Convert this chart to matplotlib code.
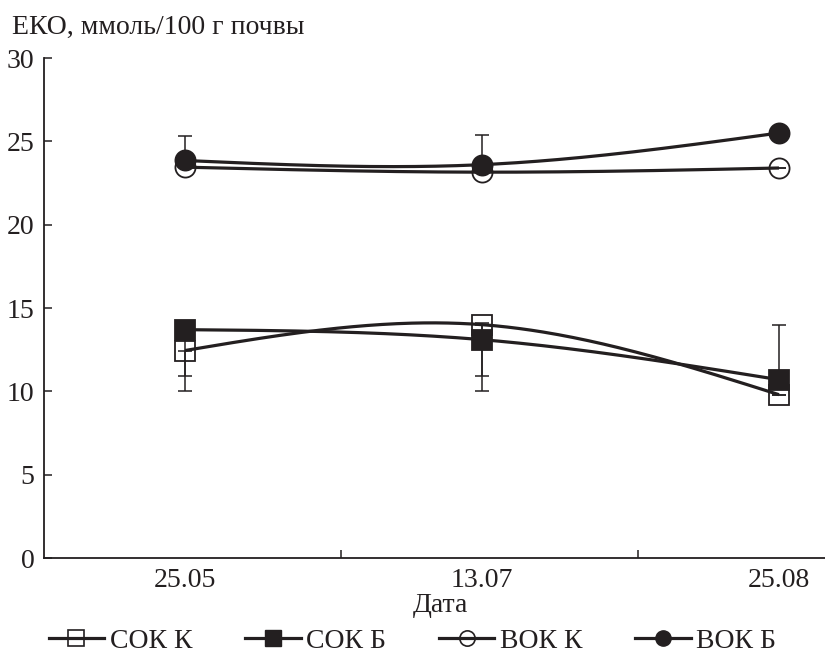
import numpy as np
import matplotlib
matplotlib.use("Agg")
import matplotlib.pyplot as plt
from matplotlib.lines import Line2D

dates = ["25.05", "13.07", "25.08"]
sok_k = [12.45, 14.0, 9.8]
sok_b = [13.7, 13.1, 10.7]
vok_k = [23.45, 23.15, 23.4]
vok_b = [23.85, 23.6, 25.5]

# one-sided error bars (lower, upper)
sok_k_err = ([2.45, 4.0, 0.0], [0.0, 0.0, 0.0])
sok_b_err = ([2.8, 2.2, 0.0], [0.0, 1.0, 3.3])
vok_k_err = ([0.0, 0.0, 0.0], [0.0, 0.0, 0.0])
vok_b_err = ([0.0, 0.0, 0.0], [1.45, 1.75, 0.0])

xpos = np.array([0.475, 1.475, 2.475])
INK = "#231f20"
FONT = "Liberation Serif"
plt.rcParams["font.family"] = [FONT, "DejaVu Serif"]
FS = 20


def natural_spline(x, y, n=200):
    x = np.asarray(x, float); y = np.asarray(y, float)
    k = len(x)
    h = np.diff(x)
    A = np.zeros((k, k)); r = np.zeros(k)
    A[0, 0] = 1; A[-1, -1] = 1
    for i in range(1, k - 1):
        A[i, i - 1] = h[i - 1]; A[i, i] = 2 * (h[i - 1] + h[i]); A[i, i + 1] = h[i]
        r[i] = 6 * ((y[i + 1] - y[i]) / h[i] - (y[i] - y[i - 1]) / h[i - 1])
    M = np.linalg.solve(A, r)
    xs = np.linspace(x[0], x[-1], n)
    ys = np.empty_like(xs)
    for j, t in enumerate(xs):
        i = min(np.searchsorted(x, t, side="right") - 1, k - 2)
        hi = h[i]; a = x[i + 1] - t; b = t - x[i]
        ys[j] = (M[i] * a**3 + M[i + 1] * b**3) / (6 * hi) + (y[i] / hi - M[i] * hi / 6) * a + (y[i + 1] / hi - M[i + 1] * hi / 6) * b
    return xs, ys


fig = plt.figure(figsize=(8.25, 6.63), dpi=100)
ax = fig.add_axes([44 / 825, 105 / 663, 1 - 44 / 825, 500 / 663])

ms = 14.5
lw = 2.3
series = [
    (sok_k, sok_k_err, "s", "none", 3),
    (sok_b, sok_b_err, "s", INK, 6),
    (vok_k, vok_k_err, "o", "none", 3),
    (vok_b, vok_b_err, "o", INK, 6),
]
for vals, err, mk, fc, z in series:
    xs, ys = natural_spline(xpos, vals)
    ax.plot(xs, ys, color=INK, lw=lw, zorder=4, solid_capstyle="butt")
    ax.errorbar(xpos, vals, yerr=np.array(err), fmt="none", ecolor=INK,
                elinewidth=1.1, capsize=4.7, capthick=1.1, zorder=5)
    ax.plot(xpos, vals, ls="none", marker=mk, ms=ms, mfc=fc, mec=INK,
            mew=1.3, zorder=z)

ax.set_xlim(0, 2.63)
ax.set_ylim(0, 30)
ax.set_yticks([0, 5, 10, 15, 20, 25, 30])
ax.set_xticks([1, 2])
ax.set_xticklabels([])
ax.set_xticks(xpos, minor=True)
ax.set_xticklabels(dates, minor=True)
ax.tick_params(axis="x", which="minor", length=0, pad=7, labelsize=FS, colors=INK)
ax.tick_params(axis="x", which="major", direction="in", length=6, width=1.1, color=INK)
ax.tick_params(axis="y", direction="in", length=6, width=1.1, color=INK,
               labelsize=FS, labelcolor=INK, pad=7)
for s in ["top", "right"]:
    ax.spines[s].set_visible(False)
for s in ["left", "bottom"]:
    ax.spines[s].set_color(INK)
    ax.spines[s].set_linewidth(1.3)
ax.patch.set_visible(False)

fig.text(12 / 825, 1 - 27 / 663, "ЕКО, ммоль/100 г почвы", ha="left", va="center",
         fontsize=FS, color=INK)
fig.text(440 / 825, 1 - 606 / 663, "Дата", ha="center", va="center", fontsize=FS, color=INK)

labels = ["СОК К", "СОК Б", "ВОК К", "ВОК Б"]
handles = [
    Line2D([], [], color=INK, lw=lw, marker="s", ms=11, mfc="none", mec=INK, mew=1.2),
    Line2D([], [], color=INK, lw=lw, marker="s", ms=11, mfc=INK, mec=INK),
    Line2D([], [], color=INK, lw=lw, marker="o", ms=11, mfc="none", mec=INK, mew=1.2),
    Line2D([], [], color=INK, lw=lw, marker="o", ms=11, mfc=INK, mec=INK),
]
fig.legend(handles, labels, loc="center", bbox_to_anchor=(0.5, 1 - 641 / 663), ncol=4,
           frameon=False, fontsize=FS, handlelength=2.0, handletextpad=0.2,
           columnspacing=1.9, labelcolor=INK)

fig.savefig("out.png", dpi=100)
